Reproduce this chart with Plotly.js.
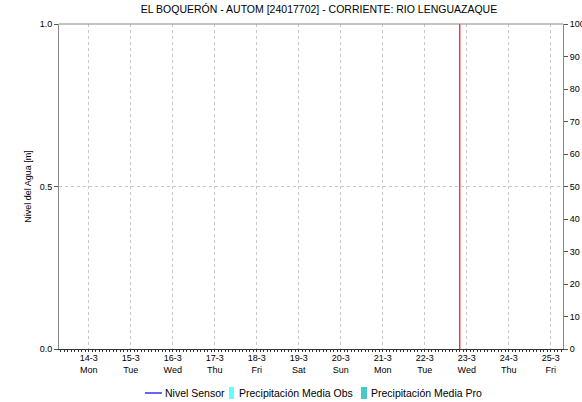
<!DOCTYPE html>
<html><head><meta charset="utf-8">
<script src="https://cdn.plot.ly/plotly-3.0.1.min.js"></script>
<style>html,body{margin:0;padding:0;background:#fff}#c{width:582px;height:402px}</style>
</head><body><div id="c"></div>
<script>
const titleText = "EL BOQUERÓN - AUTOM [24017702] - CORRIENTE: RIO LENGUAZAQUE";
const dayTicks = ["2022-03-14","2022-03-15","2022-03-16","2022-03-17","2022-03-18","2022-03-19","2022-03-20","2022-03-21","2022-03-22","2022-03-23","2022-03-24","2022-03-25"];
const dayLabels = ["14-3<br>Mon","15-3<br>Tue","16-3<br>Wed","17-3<br>Thu","18-3<br>Fri","19-3<br>Sat","20-3<br>Sun","21-3<br>Mon","22-3<br>Tue","23-3<br>Wed","24-3<br>Thu","25-3<br>Fri"];
const xRange = ["2022-03-13 07:00","2022-03-25 07:00"];
const seriesNames = ["Nivel Sensor","Precipitación Media Obs","Precipitación Media Pro"];
const seriesColors = ["#0000ff","#66ffff","#48c9c9"];
const nivelX = ["2022-03-14"];
const nivelY = [null];
const precObsY = [null];
const precProY = [null];
const nowX = ["2022-03-22 20:00","2022-03-22 20:00"];
const nowY = [0,1];

const ff = "Liberation Sans, Arial, sans-serif";
const font = {family:ff, size:9, color:"#000"};
const traces = [
  {x:nivelX, y:nivelY, type:"scatter", mode:"lines", name:seriesNames[0], line:{color:seriesColors[0], width:1.2}},
  {x:nivelX, y:precObsY, type:"bar", name:seriesNames[1], marker:{color:seriesColors[1]}, yaxis:"y2"},
  {x:nivelX, y:precProY, type:"bar", name:seriesNames[2], marker:{color:seriesColors[2]}, yaxis:"y2"},
  {x:nowX, y:nowY, type:"scatter", mode:"lines", line:{color:"#ff2020", width:1.3}, hoverinfo:"skip"}
];

// manual compact legend (pixel-based, paper coords)
const W=504, H=325, L=59, T=24;
const px = x => (x-L)/W;
const py = y => (T+H-y)/H;
const legFont = {family:ff, size:10.5, color:"#000"};
const shapes = [
  {type:"line", xref:"paper", yref:"paper", x0:0, x1:1, y0:1, y1:1, line:{color:"#888", width:1}},
  {type:"line", xref:"paper", yref:"paper", x0:px(145), x1:px(162), y0:py(393), y1:py(393), line:{color:seriesColors[0], width:1.2}},
  {type:"rect", xref:"paper", yref:"paper", x0:px(229), x1:px(234), y0:py(399), y1:py(387), line:{width:0}, fillcolor:seriesColors[1]},
  {type:"rect", xref:"paper", yref:"paper", x0:px(361), x1:px(367), y0:py(399), y1:py(387), line:{width:0}, fillcolor:seriesColors[2]}
];
const annotations = [
  {text:seriesNames[0], xref:"paper", yref:"paper", x:px(163), y:py(393), xanchor:"left", yanchor:"middle", showarrow:false, font:legFont},
  {text:seriesNames[1], xref:"paper", yref:"paper", x:px(237), y:py(393), xanchor:"left", yanchor:"middle", showarrow:false, font:legFont},
  {text:seriesNames[2], xref:"paper", yref:"paper", x:px(369), y:py(393), xanchor:"left", yanchor:"middle", showarrow:false, font:legFont}
];

const layout = {
  width:582, height:402,
  margin:{l:59, r:19, t:24, b:53, autoexpand:false},
  paper_bgcolor:"#fff", plot_bgcolor:"#fff",
  font:font,
  title:{text:titleText, font:{family:ff, size:10.5, color:"#000"}, x:0.548, xanchor:"center", y:0.985, yanchor:"top"},
  showlegend:false,
  xaxis:{type:"date", range:xRange, tickmode:"array", tickvals:dayTicks, ticktext:dayLabels,
    showgrid:true, gridcolor:"#c8c8c8", griddash:"dot", gridwidth:1,
    ticks:"", showline:true, linecolor:"#333", linewidth:1, mirror:false,
    tickfont:font, zeroline:false,
    minor:{dtick:7200000, ticks:"outside", ticklen:2, tickcolor:"#333", showgrid:false}},
  yaxis:{range:[0,1], tickmode:"array", tickvals:[0,0.5,1], ticktext:["0.0","0.5","1.0"],
    ticks:"outside", ticklen:4, tickcolor:"#555", showline:true, linecolor:"#888", linewidth:1,
    showgrid:true, gridcolor:"#c8c8c8", griddash:"dot", zeroline:false, tickfont:font,
    title:{text:"Nivel del Agua [m]", font:{family:ff, size:9, color:"#000"}, standoff:6}},
  yaxis2:{range:[0,100], overlaying:"y", side:"right", tickmode:"linear", tick0:0, dtick:10,
    ticks:"outside", ticklen:4, tickcolor:"#555", showline:true, linecolor:"#888", linewidth:1,
    showgrid:false, zeroline:false, tickfont:font},
  shapes:shapes, annotations:annotations
};
Plotly.newPlot("c", traces, layout, {staticPlot:true});
</script></body></html>
